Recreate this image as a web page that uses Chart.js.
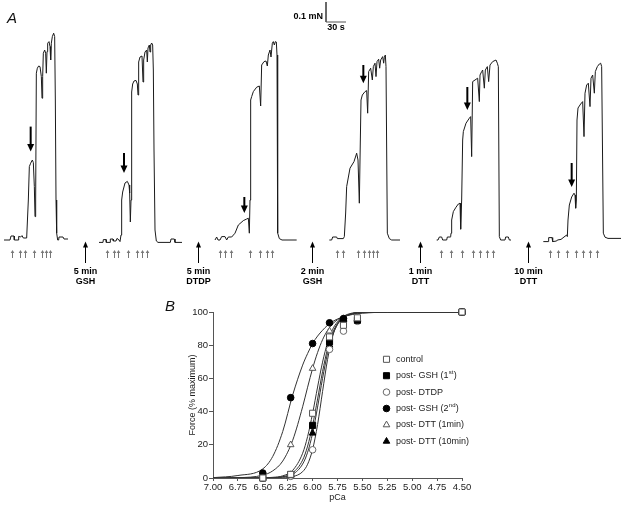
<!DOCTYPE html>
<html><head><meta charset="utf-8">
<script src="https://cdn.jsdelivr.net/npm/chart.js@4.4.1/dist/chart.umd.min.js"></script>
<style>
html,body{margin:0;padding:0;background:#fff;}
#wrap{position:relative;width:621px;height:510px;overflow:hidden;font-family:"Liberation Sans",Arial,sans-serif;}
#cA{position:absolute;left:0;top:0;}
#cB{position:absolute;left:150px;top:290px;}
.plab{position:absolute;font-style:italic;font-size:15px;line-height:15px;color:#111;}
</style></head><body>
<div id="wrap">
<canvas id="cA" width="621" height="290"></canvas>
<canvas id="cB" width="471" height="220"></canvas>
<div class="plab" style="left:7px;top:10px">A</div>
<div class="plab" style="left:165px;top:298px">B</div>
</div>
<script>
// ---------- Panel A: force records (time in s, force in µN) ----------
const TRACE_1 = [[6,0],[15,0],[16.5,20],[21,20],[21.5,0],[27,0],[28,18],[31,15],[33,22],[35,10],[40,10],
 [42.5,200],[44,367],[46,384],[48.5,400],[50,387],[51.5,267],[52.5,117],[53.5,200],[54.5,834],[56,859],[58,870],[60,867],
 [62,817],[63,709],[64,817],[65,934],[67,950],[68.5,934],[69.5,834],[70.5,942],[71.5,984],[73.5,992],[75,967],[76,900],
 [77,984],[78.5,1017],[80.5,1034],[82,1017],[83,700],[84,200],[85,34],[86.5,0],[88,0],[88.5,15],[94.5,15],[96,5],[102,5]];
const TRACE_2 = [[148.5,-12],[154.5,-12],[155,2],[159,2],[159.5,-12],[165,-12],[165.5,5],[169.5,5],[170,-5],[174,-5],
 [175.5,8],[178.5,0],[180,-8],[181.5,25],[182.5,200],[184,240],[187.5,285],[191,293],[193.5,275],[194.5,235],[195.5,90],
 [196.5,200],[197.5,740],[199,780],[201,795],[204,798],[206,780],[207,725],[208,890],[210,915],[213,920],[214.5,790],
 [215.5,900],[217.5,940],[220,950],[221,890],[222,960],[224,975],[225,940],[226,975],[227.5,985],[229,975],[230,850],
 [231,450],[232.5,50],[234.5,-5],[237,-12],[255.5,-12],[256.5,5],[261.5,5],[262.5,-12],[273,-12]];
const TRACE_3 = [[322.5,0],[325,15],[327,0],[330,0],[332.5,17],[337.5,17],[340,0],[342.5,15],[347.5,15],[352.5,34],
 [357.5,75],[365,97],[370,105],[372.5,109],[374,34],[375,200],[376,700],[377.5,717],[380,742],[385,764],[389,770],
 [391,670],[392.5,875],[396,892],[399,895],[401,870],[402.5,925],[405,950],[406.5,915],[408.5,984],[410,992],[411.5,975],
 [413,992],[414.5,990],[415.5,925],[416.5,35],[419,7],[423,0],[445,0]];
const TRACE_4 = [[494,0],[497.5,0],[499,15],[505,15],[506,7],[515,7],[516.5,17],[518.5,135],[520,267],[525,359],[531,392],
 [535,434],[537,400],[539,184],[540,400],[541.5,700],[543.5,725],[547.5,742],[550,747],[551.5,634],[553,842],[556,859],
 [558.5,800],[560,867],[562.5,884],[564,817],[565.5,892],[568,904],[569.5,859],[571,900],[574,917],[575.5,884],[576.5,914],
 [578,925],[579,867],[581,34],[584,7],[587.5,0],[600,0]];
const TRACE_5 = [[655,0],[657,0],[659,15],[662.5,15],[664,0],[670,0],[671,15],[675,15],[676,17],[676.5,34],[677.5,100],
 [680,142],[684,164],[687.5,180],[690,184],[691,54],[692.5,200],[694,500],[695,542],[699,584],[704,609],[706,617],[707.5,417],
 [709,792],[712.5,800],[716.5,809],[719,692],[720,825],[722.5,842],[724,850],[726.5,759],[728,850],[731,867],[733,792],
 [735,875],[739,892],[744,900],[746,884],[747.5,867],[749,17],[751,0],[757.5,0],[758.5,15],[762.5,15],[764,0],[766.5,0]];
const TRACE_6 = [[815,-8],[822.5,-8],[823,12],[828,12],[829,-8],[835,-5],[836,0],[841.5,3],[846,15],[850,25],[851,17],
 [852,100],[854,175],[857.5,215],[861,234],[862.5,225],[863.5,159],[864.5,200],[865.5,600],[867,660],[871,680],[874,692],
 [876,517],[877.5,734],[880,775],[882.5,784],[885,667],[886.5,809],[889,825],[891.5,734],[893,842],[896,867],[899,880],
 [901,884],[902.5,867],[905,34],[907.5,14],[912,8],[931.5,8]];
const TRACES = [TRACE_1, TRACE_2, TRACE_3, TRACE_4, TRACE_5, TRACE_6];
// stimulus (solution change) times, s
const STIMULI = [[18.5,30,37.5,51.5,62.5,69,75],[160,171,177.5,192.5,205,212.5,220],[330,337.5,346,375,390,400,407.5],
 [505,515,537.5,546,554,560,565],[661,676,692.5,709,720,730,739],[825,837.5,850,863.5,875,885,895]];
// thick arrows: [time, top force, tip force]
const MARK_ARROWS = [[46,567,442],[186,435,335],[366.5,215,135],[545,875,784],[701,765,650],[857.5,385,265]];
// treatments between records
const DRUG_TIMES = [127.5, 297.5, 467.5, 630, 792.5];
const DRUG_DURATION = ['5 min','5 min','2 min','1 min','10 min'];
const DRUG_NAMES = ['GSH','DTDP','GSH','DTT','DTT'];
// calibration bar: 100 µN (0.1 mN) by 30 s
const BAR_T0 = 489, BAR_F0 = 1090, BAR_DT = 30, BAR_DF = 100;

// ---------- Panel B: force–pCa ----------
const PCA = [6.5, 6.22, 6.0, 5.83, 5.69, 5.55, 4.5];
const CONTROL = [0, 2.2, 39, 85, 92, 96.5, 100];
const GSH_1ST = [0, 2, 31.7, 82, 95, 95, 100];
const DTDP = [0, 1, 17, 77.5, 88.5, 94.4, 100];
const GSH_2ND = [3, 48.4, 81, 93.5, 96, null, 100];
const DTT_1MIN = [1, 20, 66, 88.5, 96, null, 100];
const DTT_10MIN = [0, 2, 27, 80, 95.4, 96, 100];
const SERIES_NAMES = ['control','post- GSH (1st)','post- DTDP','post- GSH (2nd)','post- DTT (1min)','post- DTT (10min)'];
// fitted curves
const FIT_PCA = [7.0,6.75,6.5,6.4,6.3,6.2,6.1,6.05,6.0,5.95,5.9,5.85,5.8,5.75,5.7,5.6,5.5,5.25,5.0,4.75,4.5];
const CONTROL_FIT = [0,0,0.1,0.4,1.3,4.6,14.9,25,38.9,54.8,69.8,81.5,89.4,94.1,96.8,99.1,99.8,100,100,100,100];
const GSH_1ST_FIT = [0,0,0.1,0.2,0.8,3.1,10.8,19.2,31.7,47.6,64.1,77.8,87.3,93.1,96.3,99.0,99.8,100,100,100,100];
const DTDP_FIT = [0,0,0,0,0.1,0.8,3.8,8.3,17.2,32.2,52.1,71.3,85.1,92.9,96.8,99.4,99.9,100,100,100,100];
const GSH_2ND_FIT = [0.2,1.5,5.5,13,28,50,68,75,81,85.5,89,92,94.2,95.8,97,98.5,99.3,99.9,100,100,100];
const DTT_1MIN_FIT = [0,0.2,1.7,4.3,10.2,22.7,42.9,54.7,66,75.6,83.3,88.9,92.8,95.3,97,98.8,99.5,100,100,100,100];
const DTT_10MIN_FIT = [0,0,0,0.1,0.6,2.2,8.4,15.5,27,42.7,60,75.1,85.9,92.4,96.1,99,99.8,100,100,100,100];
const X_TICKS = [7.0,6.75,6.5,6.25,6.0,5.75,5.5,5.25,5.0,4.75,4.5];
const Y_TICKS = [0,20,40,60,80,100];

const FONT = '"Liberation Sans", Arial, sans-serif';

// ================= Chart A =================
const annotA = {
  id:'annotA',
  afterDatasetsDraw(chart){
    const ctx = chart.ctx, xs = chart.scales.x, ys = chart.scales.y;
    ctx.save();
    ctx.fillStyle = '#000'; ctx.strokeStyle = '#000';
    MARK_ARROWS.forEach(([t, top, tip]) => {
      const x = xs.getPixelForValue(t), y0 = ys.getPixelForValue(top), y1 = ys.getPixelForValue(tip);
      ctx.lineWidth = 2;
      ctx.beginPath(); ctx.moveTo(x, y0); ctx.lineTo(x, y1 - 6); ctx.stroke();
      ctx.beginPath(); ctx.moveTo(x - 3.5, y1 - 7.5); ctx.lineTo(x + 3.5, y1 - 7.5); ctx.lineTo(x, y1); ctx.closePath(); ctx.fill();
    });
    ctx.strokeStyle = '#777'; ctx.fillStyle = '#777'; ctx.lineWidth = 1;
    STIMULI.flat().forEach(t => {
      const x = Math.round(xs.getPixelForValue(t)) + 0.5;
      const y0 = ys.getPixelForValue(-50), y1 = ys.getPixelForValue(-90);
      ctx.beginPath(); ctx.moveTo(x, y0 + 2); ctx.lineTo(x, y1); ctx.stroke();
      ctx.beginPath(); ctx.moveTo(x - 1.8, y0 + 3); ctx.lineTo(x + 1.8, y0 + 3); ctx.lineTo(x, y0); ctx.closePath(); ctx.fill();
    });
    ctx.strokeStyle = '#000'; ctx.fillStyle = '#000';
    ctx.font = 'bold 9px ' + FONT; ctx.textAlign = 'center'; ctx.textBaseline = 'middle';
    DRUG_TIMES.forEach((t, i) => {
      const x = Math.round(xs.getPixelForValue(t)) + 0.5;
      const y0 = ys.getPixelForValue(-8), y1 = ys.getPixelForValue(-115);
      ctx.lineWidth = 1;
      ctx.beginPath(); ctx.moveTo(x, y0 + 4); ctx.lineTo(x, y1); ctx.stroke();
      ctx.beginPath(); ctx.moveTo(x - 2.5, y0 + 6); ctx.lineTo(x + 2.5, y0 + 6); ctx.lineTo(x, y0); ctx.closePath(); ctx.fill();
      ctx.fillText(DRUG_DURATION[i], x, y1 + 9);
      ctx.fillText(DRUG_NAMES[i], x, y1 + 18.5);
    });
    ctx.textBaseline = 'middle';
    ctx.textAlign = 'right';
    ctx.fillText('0.1 mN', xs.getPixelForValue(BAR_T0) - 3, ys.getPixelForValue(BAR_F0 + BAR_DF * 0.25));
    ctx.textAlign = 'center';
    ctx.fillText('30 s', xs.getPixelForValue(BAR_T0 + BAR_DT / 2), ys.getPixelForValue(BAR_F0 - 27));
    ctx.restore();
  }
};

const dsA = TRACES.map(tr => ({
  data: tr.map(([x, y]) => ({x, y})), borderColor:'#1a1a1a', borderWidth:1, pointRadius:0, tension:0, fill:false
}));
dsA.push({
  data:[{x:BAR_T0, y:BAR_F0 + BAR_DF},{x:BAR_T0, y:BAR_F0},{x:BAR_T0 + BAR_DT, y:BAR_F0}],
  borderColor:'#555', borderWidth:1, pointRadius:0, tension:0, fill:false
});

new Chart(document.getElementById('cA'), {
  type:'line',
  data:{datasets: dsA},
  options:{
    responsive:false, animation:false, devicePixelRatio:1,
    layout:{padding:0},
    plugins:{legend:{display:false}, tooltip:{enabled:false}},
    scales:{
      x:{type:'linear', display:false, min:0, max:931.5},
      y:{type:'linear', display:false, min:-250, max:1200}
    }
  },
  plugins:[annotA]
});

// ================= Chart B =================
const STYLES = [
  {ps:'rect', bg:'#fff', bc:'#555', r:4.3},
  {ps:'rect', bg:'#000', bc:'#000', r:4.3},
  {ps:'circle', bg:'#fff', bc:'#666', r:3.3},
  {ps:'circle', bg:'#000', bc:'#000', r:3.3},
  {ps:'triangle', bg:'#fff', bc:'#555', r:3.8},
  {ps:'triangle', bg:'#000', bc:'#000', r:3.8}
];
const SERIES = [CONTROL, GSH_1ST, DTDP, GSH_2ND, DTT_1MIN, DTT_10MIN];
const FITS = [CONTROL_FIT, GSH_1ST_FIT, DTDP_FIT, GSH_2ND_FIT, DTT_1MIN_FIT, DTT_10MIN_FIT];

const dsB = [];
SERIES.forEach((vals, i) => {
  const s = STYLES[i];
  dsB.push({
    label: SERIES_NAMES[i], order: 0, clip: false,
    data: PCA.map((p, j) => ({x:p, y:vals[j]})).filter(d => d.y !== null),
    showLine:false, pointStyle:s.ps, pointRadius:s.r, pointBackgroundColor:s.bg,
    pointBorderColor:s.bc, pointBorderWidth:1, borderColor:s.bc, backgroundColor:s.bg
  });
});
FITS.forEach((vals, i) => {
  dsB.push({
    label: SERIES_NAMES[i] + ' fit', order: 1,
    data: FIT_PCA.map((p, j) => ({x:p, y:vals[j]})),
    showLine:true, pointRadius:0, borderColor:'#333', borderWidth:1, cubicInterpolationMode:'monotone', fill:false
  });
});

function drawMarker(ctx, ps, x, y, r){
  ctx.beginPath();
  if (ps === 'rect') { const h = r * Math.SQRT1_2; ctx.rect(x - h, y - h, 2*h, 2*h); }
  else if (ps === 'circle') { ctx.arc(x, y, r, 0, Math.PI*2); }
  else { const a = Math.PI*2/3; ctx.moveTo(x, y - r); ctx.lineTo(x + Math.sin(a)*r, y - Math.cos(a)*r); ctx.lineTo(x - Math.sin(a)*r, y - Math.cos(a)*r); ctx.closePath(); }
  ctx.fill(); ctx.stroke();
}

const legendB = {
  id:'legendB',
  afterDraw(chart){
    const ctx = chart.ctx, a = chart.chartArea;
    const mx = a.left + 173.5, tx = a.left + 183, y0 = a.top + 47.3, dy = 16.4;
    ctx.save();
    ctx.textBaseline = 'middle'; ctx.textAlign = 'left';
    SERIES_NAMES.forEach((name, i) => {
      const s = STYLES[i], y = y0 + i*dy;
      ctx.fillStyle = s.bg; ctx.strokeStyle = s.bc; ctx.lineWidth = 1;
      drawMarker(ctx, s.ps, mx, y, s.r);
      ctx.fillStyle = '#222';
      const m = name.match(/^(.*\(\d)(st|nd|rd|th)(\).*)$/);
      ctx.font = '9px ' + FONT;
      if (m) {
        let x = tx;
        ctx.fillText(m[1], x, y); x += ctx.measureText(m[1]).width;
        ctx.font = '6px ' + FONT;
        ctx.fillText(m[2], x + 0.3, y - 3); x += ctx.measureText(m[2]).width + 0.6;
        ctx.font = '9px ' + FONT;
        ctx.fillText(m[3], x, y);
      } else {
        ctx.fillText(name, tx, y);
      }
    });
    ctx.restore();
  }
};

new Chart(document.getElementById('cB'), {
  type:'line',
  data:{datasets: dsB},
  options:{
    responsive:false, animation:false, devicePixelRatio:1,
    layout:{padding:{left:37, top:22, right:159, bottom:7}},
    plugins:{legend:{display:false}, tooltip:{enabled:false}},
    scales:{
      x:{
        type:'linear', reverse:true, min:4.5, max:7.0,
        afterFit(s){ s.height = 25; },
        afterBuildTicks(s){ s.ticks = X_TICKS.map(v => ({value:v})); },
        ticks:{callback:v => Number(v).toFixed(2), font:{family:FONT, size:9.5}, color:'#222', padding:1, maxRotation:0, autoSkip:false},
        grid:{drawOnChartArea:false, drawTicks:true, tickLength:3, color:'#555'},
        border:{display:true, color:'#555', width:1},
        title:{display:true, text:'pCa', padding:0, font:{family:FONT, size:9}, color:'#222'}
      },
      y:{
        type:'linear', min:0, max:100,
        afterFit(s){ s.width = 26; },
        afterBuildTicks(s){ s.ticks = Y_TICKS.map(v => ({value:v})); },
        ticks:{font:{family:FONT, size:9.5}, color:'#222', padding:1},
        grid:{drawOnChartArea:false, drawTicks:true, tickLength:4, color:'#555'},
        border:{display:true, color:'#555', width:1},
        title:{display:true, text:'Force (% maximum)', padding:0, font:{family:FONT, size:9}, color:'#222'}
      }
    }
  },
  plugins:[legendB]
});
</script>
</body></html>
